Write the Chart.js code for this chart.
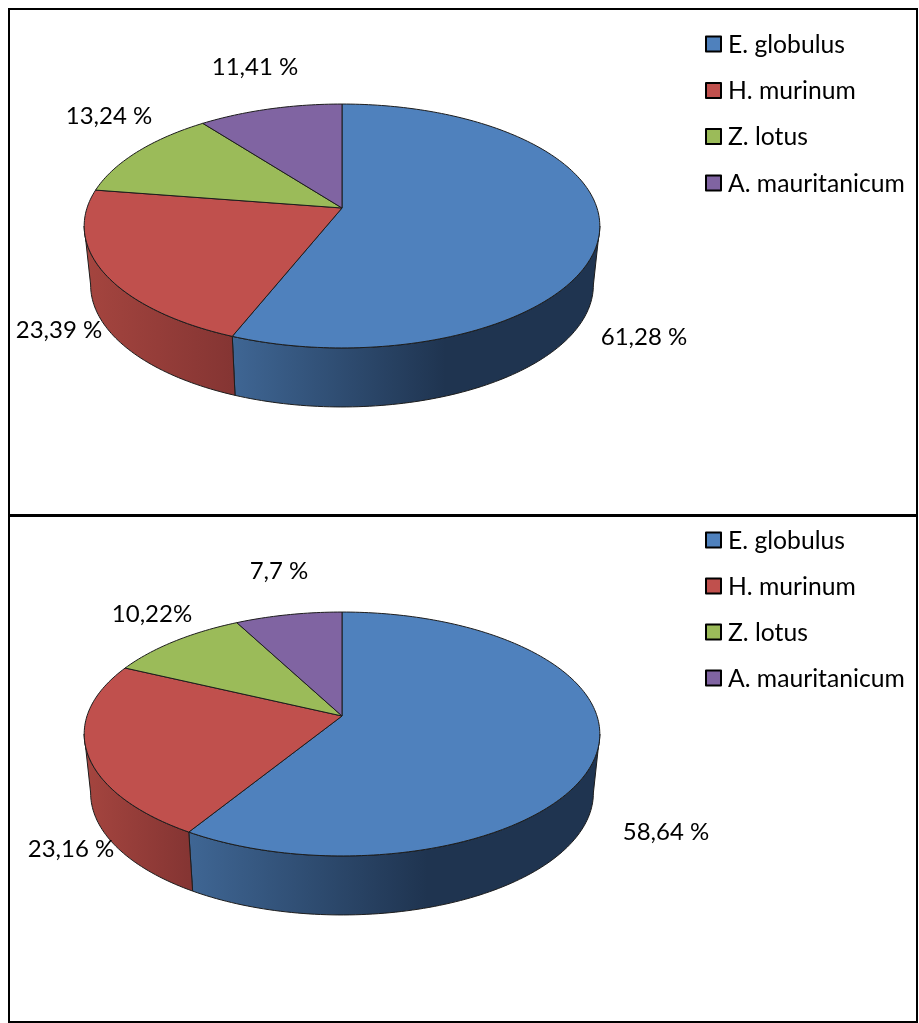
<!DOCTYPE html>
<html>
<head>
<meta charset="utf-8">
<title>Pie charts</title>
<script src="https://cdn.jsdelivr.net/npm/chart.js@4/dist/chart.umd.min.js"></script>
<style>
  html, body { margin: 0; padding: 0; background: #fff; }
  #frame { position: absolute; left: 8px; top: 8px; width: 910px; height: 1015px; box-sizing: border-box; border: 2px solid #000; }
  #divider { position: absolute; left: 8px; top: 514px; width: 910px; height: 3px; background: #000; }
  .box { position: absolute; left: 0; width: 919px; }
  #box-a { top: 0; height: 514px; }
  #box-b { top: 516px; height: 507px; }
</style>
</head>
<body>
<div class="box" id="box-a"><canvas id="chart-a"></canvas></div>
<div class="box" id="box-b"><canvas id="chart-b"></canvas></div>
<div id="frame"></div>
<div id="divider"></div>
<script>
const species = ['E. globulus', 'H. murinum', 'Z. lotus', 'A. mauritanicum'];
const valuesA = [61.28, 23.39, 13.24, 11.41];
const valuesB = [58.64, 23.16, 10.22, 7.7];
const textA = ['61,28 %', '23,39 %', '13,24 %', '11,41 %'];
const textB = ['58,64 %', '23,16 %', '10,22%', '7,7 %'];
const colors = ['#4f81bd', '#c0504d', '#9bbb59', '#8064a2'];
const wallLight = ['#3f6694', '#a5453f', '#86a24c', '#6f5790'];
const wallDark = ['#1f3450', '#853533', '#5c6f35', '#4c3c61'];

const FONT = '24px Lato';
const LEGEND_FONT = '24.7px Lato';
const EDGE = '#1c1c1c';

// tilted pie with perspective: top face and base are the same circle projected
function projector(g, a, base) {
    const u = Math.cos(a), v = Math.sin(a);
    const w = 1 - g.persp * v;
    const m = base ? g.rx * g.baseScale : g.rx;
    return {
        x: g.cx + m * u / w,
        y: g.cy + g.ry * v / w + (base ? g.depth : 0)
    };
}

function arcPoints(g, from, to, base) {
    const steps = Math.max(2, Math.ceil(Math.abs(to - from) / 0.02));
    const pts = [];
    for (let i = 0; i <= steps; i++) {
        pts.push(projector(g, from + (to - from) * i / steps, base));
    }
    return pts;
}

function tracePoints(ctx, pts, start) {
    pts.forEach((p, i) => {
        if (i === 0 && start) ctx.moveTo(p.x, p.y);
        else ctx.lineTo(p.x, p.y);
    });
}

const pie3d = {
    id: 'pie3d',
    beforeDatasetsDraw(chart, args, opts) {
        const ctx = chart.ctx;
        const meta = chart.getDatasetMeta(0);
        const g = opts.geometry;
        const wallFrom = Math.asin(g.persp), wallTo = Math.PI - wallFrom;
        const norm = a => {
            let r = a;
            while (r < -Math.PI / 2) r += Math.PI * 2;
            while (r >= Math.PI * 1.5) r -= Math.PI * 2;
            return r;
        };

        ctx.save();
        ctx.lineJoin = 'round';
        // side walls first
        meta.data.forEach((arc, i) => {
            const s = norm(arc.startAngle), e = s + (arc.endAngle - arc.startAngle);
            const from = Math.max(s, wallFrom), to = Math.min(e, wallTo);
            if (to <= from) return;
            const top = arcPoints(g, from, to, false);
            const bottom = arcPoints(g, to, from, true);
            const left = Math.min(...top.map(p => p.x));
            const right = Math.max(...top.map(p => p.x));
            const grad = ctx.createLinearGradient(left, 0, right, 0);
            grad.addColorStop(0, wallLight[i]);
            grad.addColorStop(i === 0 ? 0.58 : 1, wallDark[i]);
            grad.addColorStop(1, wallDark[i]);
            ctx.beginPath();
            tracePoints(ctx, top, true);
            tracePoints(ctx, bottom, false);
            ctx.closePath();
            ctx.fillStyle = grad;
            ctx.fill();
            ctx.strokeStyle = EDGE;
            ctx.lineWidth = 1;
            ctx.stroke();
        });
        // top face
        meta.data.forEach((arc, i) => {
            const pts = arcPoints(g, arc.startAngle, arc.endAngle, false);
            ctx.beginPath();
            ctx.moveTo(g.cx, g.cy);
            tracePoints(ctx, pts, false);
            ctx.closePath();
            ctx.fillStyle = colors[i];
            ctx.fill();
            ctx.strokeStyle = EDGE;
            ctx.lineWidth = 1;
            ctx.stroke();
        });
        // value labels
        ctx.fillStyle = '#000';
        ctx.font = FONT;
        ctx.textAlign = 'center';
        ctx.textBaseline = 'middle';
        opts.text.forEach((t, i) => {
            ctx.fillText(t, opts.textPos[i][0], opts.textPos[i][1]);
        });
        // legend, the built-in one keeps too wide a gap between box and text
        ctx.textAlign = 'left';
        ctx.font = LEGEND_FONT;
        chart.data.labels.forEach((name, i) => {
            const y = opts.legendY[i];
            ctx.fillStyle = colors[i];
            ctx.fillRect(706, y - 7.5, 15, 15);
            ctx.strokeStyle = '#000';
            ctx.lineWidth = 2;
            ctx.strokeRect(706, y - 7.5, 15, 15);
            ctx.fillStyle = '#000';
            ctx.fillText(name, 728, y + 1);
        });
        ctx.restore();
        return false;
    }
};

function buildChart(id, values, text, textPos, geometry, legendY) {
    return new Chart(document.getElementById(id), {
        type: 'pie',
        data: {
            labels: species,
            datasets: [{ data: values, backgroundColor: colors, borderColor: '#111', borderWidth: 1 }]
        },
        options: {
            responsive: true,
            maintainAspectRatio: false,
            animation: false,
            plugins: {
                tooltip: { enabled: false },
                legend: { display: false },
                pie3d: { text, textPos, geometry, legendY }
            }
        },
        plugins: [pie3d]
    });
}

buildChart('chart-a', valuesA, textA,
    [[644, 337], [59, 330], [109, 116], [255, 67]],
    { cx: 342, cy: 208, rx: 255, ry: 119.3, persp: 0.1475, depth: 59, baseScale: 0.975 },
    [44, 90.5, 136.5, 183]);

buildChart('chart-b', valuesB, textB,
    [[666, 316], [71, 333], [152, 98], [279, 55]],
    { cx: 342, cy: 200, rx: 255, ry: 119.3, persp: 0.1475, depth: 59, baseScale: 0.975 },
    [24, 70, 116, 162]);
</script>
</body>
</html>
